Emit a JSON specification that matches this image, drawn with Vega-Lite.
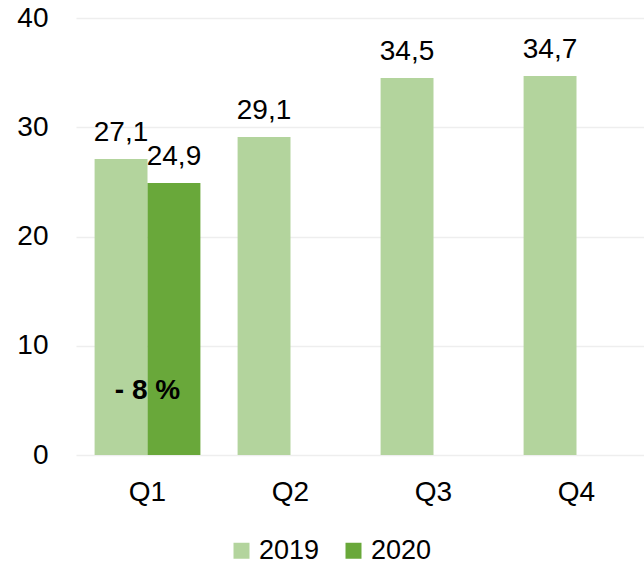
{
  "$schema": "https://vega.github.io/schema/vega-lite/v6.json",
  "width": 572,
  "height": 437,
  "autosize": {"type": "none"},
  "padding": {"left": 76, "top": 18, "right": 0, "bottom": 110},
  "config": {
    "view": {"stroke": null},
    "font": "Liberation Sans",
    "axis": {"labelFont": "Liberation Sans", "labelColor": "#000000"},
    "legend": {"labelFont": "Liberation Sans"}
  },
  "datasets": {
    "bars": [
      {"q": "Q1", "year": "2019", "v": 27.1, "label": "27,1"},
      {"q": "Q1", "year": "2020", "v": 24.9, "label": "24,9"},
      {"q": "Q2", "year": "2019", "v": 29.1, "label": "29,1"},
      {"q": "Q3", "year": "2019", "v": 34.5, "label": "34,5"},
      {"q": "Q4", "year": "2019", "v": 34.7, "label": "34,7"}
    ],
    "note": [
      {"q": "Q1", "y": 5.9, "label": "- 8 %"}
    ]
  },
  "layer": [
    {
      "data": {"name": "bars"},
      "mark": {"type": "bar"},
      "encoding": {
        "x": {
          "field": "q", "type": "nominal",
          "scale": {"domain": ["Q1", "Q2", "Q3", "Q4"], "paddingInner": 0.26, "paddingOuter": 0.13},
          "axis": {"title": null, "labelAngle": 0, "domain": false, "ticks": false, "labelFontSize": 28, "labelPadding": 23, "labelColor": "#000000"}
        },
        "xOffset": {"field": "year", "type": "nominal", "scale": {"domain": ["2019", "2020"], "paddingInner": 0, "paddingOuter": 0}},
        "y": {
          "field": "v", "type": "quantitative",
          "scale": {"domain": [0, 40]},
          "axis": {"title": null, "values": [0, 10, 20, 30, 40], "domain": false, "ticks": false, "labelFontSize": 28, "labelPadding": 28, "gridColor": "#eeeeee", "gridWidth": 1.5}
        },
        "color": {
          "field": "year", "type": "nominal",
          "scale": {"domain": ["2019", "2020"], "range": ["#b3d49d", "#69a83a"]},
          "legend": {
            "title": null, "orient": "none", "direction": "horizontal",
            "legendX": 152, "legendY": 519,
            "symbolType": "square", "symbolSize": 256, "symbolStrokeWidth": 0,
            "labelFontSize": 27, "labelColor": "#000000", "columnPadding": 20, "labelOffset": 4
          }
        }
      }
    },
    {
      "data": {"name": "bars"},
      "mark": {"type": "text", "fontSize": 28, "baseline": "alphabetic", "dy": -18, "color": "#000000"},
      "encoding": {
        "x": {"field": "q", "type": "nominal"},
        "xOffset": {"field": "year", "type": "nominal"},
        "y": {"field": "v", "type": "quantitative"},
        "text": {"field": "label"}
      }
    },
    {
      "data": {"name": "note"},
      "mark": {"type": "text", "fontSize": 28, "fontWeight": "bold", "baseline": "middle", "color": "#000000"},
      "encoding": {
        "x": {"field": "q", "type": "nominal"},
        "y": {"field": "y", "type": "quantitative"},
        "text": {"field": "label"}
      }
    }
  ]
}
